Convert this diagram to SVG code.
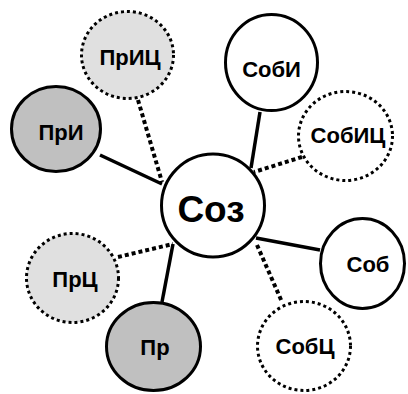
<svg xmlns="http://www.w3.org/2000/svg" width="408" height="394" viewBox="0 0 408 394">
<style>
.n{stroke:#000;stroke-width:3;fill:#fff}
.d{stroke:#000;stroke-width:3;stroke-dasharray:3 3;fill:#fff}
.g{fill:#c0c0c0}
.lg{fill:#e0e0e0}
.s{stroke:#000;stroke-width:3.5;fill:none}
.sd{stroke:#000;stroke-width:4;stroke-dasharray:4 3;fill:none}
text{font-family:"Liberation Sans",Arial,sans-serif;font-weight:bold;font-size:22px;text-anchor:middle;fill:#000}
</style>
<rect width="408" height="394" fill="#fff"/>
<g id="connectors">
<line class="s" x1="100" y1="155" x2="162" y2="184"/>
<line class="sd" x1="138" y1="100" x2="162" y2="182"/>
<line class="s" x1="260" y1="112" x2="251" y2="168"/>
<line class="sd" x1="302" y1="157" x2="254" y2="172"/>
<line class="sd" x1="118" y1="257" x2="173" y2="244"/>
<line class="s" x1="162" y1="302" x2="173" y2="244"/>
<line class="s" x1="256" y1="238" x2="320" y2="250"/>
<line class="sd" x1="257" y1="245" x2="282" y2="302"/>
</g>
<g id="PrIC"><ellipse class="d lg" cx="127.5" cy="55" rx="46" ry="43.5"/><text x="130" y="65">ПрИЦ</text></g>
<g id="PrI"><ellipse class="n g" cx="56" cy="129" rx="44.5" ry="42.5"/><text x="61" y="140">ПрИ</text></g>
<g id="SobI"><ellipse class="n" cx="271.5" cy="62.5" rx="46" ry="48"/><text x="271.5" y="77">СобИ</text></g>
<g id="SobIC"><ellipse class="d" cx="345.5" cy="136" rx="47" ry="44.5"/><text x="348" y="143">СобИЦ</text></g>
<g id="PrC"><ellipse class="d lg" cx="72.5" cy="278" rx="46" ry="44.5"/><text x="75" y="287">ПрЦ</text></g>
<g id="Pr"><ellipse class="n g" cx="153.5" cy="346.5" rx="47" ry="44"/><text x="155" y="355">Пр</text></g>
<g id="Sob"><ellipse class="n" cx="362.5" cy="263.5" rx="42" ry="45"/><text x="368" y="272">Соб</text></g>
<g id="SobC"><ellipse class="d" cx="304" cy="346" rx="46.5" ry="44.5"/><text x="305" y="354">СобЦ</text></g>
<g id="Soz"><circle class="n" cx="213" cy="205.5" r="51.5"/><text x="211" y="222" style="font-size:37px">Соз</text></g>
</svg>
